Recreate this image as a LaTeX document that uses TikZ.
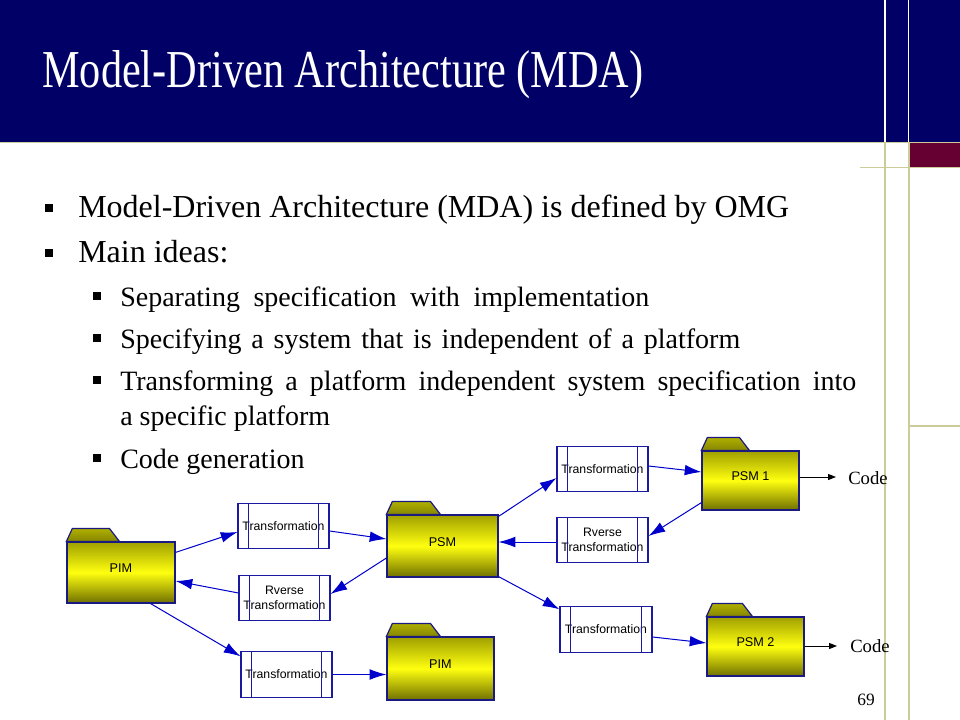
\documentclass[tikz,border=0pt]{standalone}
\usepackage{fontspec}
\usepackage{graphicx}
\setmainfont{Liberation Serif}
\newfontfamily\diagfont{Liberation Sans}
\usetikzlibrary{arrows.meta,calc}
\definecolor{headnavy}{HTML}{000066}
\definecolor{rulekhaki}{HTML}{CCCC99}
\definecolor{maroonbox}{HTML}{660033}
\definecolor{folderedge}{HTML}{1A1A80}
\definecolor{foldertop}{HTML}{A0A000}
\definecolor{foldermid}{HTML}{FFFF10}
\definecolor{folderbot}{HTML}{707000}
\definecolor{tabtop}{HTML}{B0B000}
\definecolor{tabbot}{HTML}{858500}
\definecolor{transblue}{HTML}{1A1AA0}
\definecolor{arrowblue}{HTML}{0000CC}
\tikzset{
 folderbody/.style={draw=folderedge, line width=0.9pt, top color=foldertop, bottom color=folderbot, middle color=foldermid, font=\diagfont\fontsize{9.5}{11}\selectfont, inner sep=0pt},
 foldertab/.style={draw=folderedge, line width=0.9pt, top color=tabtop, bottom color=tabbot},
 transbox/.style={draw=transblue, line width=0.8pt, fill=white, font=\diagfont\fontsize{9.2}{11.5}\selectfont, align=center, inner sep=0pt, minimum width=68.25pt, minimum height=34pt},
 transline/.style={draw=transblue, line width=0.8pt},
 flow/.style={draw=arrowblue, line width=0.75pt, -{Latex[length=12.5pt,width=8pt]}},
 codearrow/.style={draw=black, line width=0.75pt, -{Triangle[length=6pt,width=4.5pt]}},
 bulletone/.style={fill=black, inner sep=0pt, minimum size=6pt},
 bullettwo/.style={fill=black, inner sep=0pt, minimum size=5.5pt},
 lineone/.style={anchor=base west, inner sep=0pt, font=\fontsize{24}{28}\selectfont},
 linetwo/.style={anchor=base west, inner sep=0pt, font=\fontsize{21}{25}\selectfont},
 rulestyle/.style={draw=rulekhaki, line width=1pt},
}
\newcommand\drawfoldertab[2]{%
  \draw[foldertab] (#1.north west) -- ++(6,-13) -- ++({#2-16},0) -- ++(10,13) -- cycle;}
\newcommand\drawtranslines[1]{%
  \draw[transline] ($(#1.north west)+(11,0)$) -- ($(#1.south west)+(11,0)$);
  \draw[transline] ($(#1.north east)+(-11,0)$) -- ($(#1.south east)+(-11,0)$);}
\newcommand\foldertext[1]{\raisebox{0pt}[0pt][0pt]{#1}}
\begin{document}
\begin{tikzpicture}[x=0.75pt,y=-0.75pt]
\useasboundingbox (0,0) rectangle (960,720);
\fill[white] (0,0) rectangle (960,720);
% header
\fill[headnavy] (0,0) rectangle (960,142);
\draw[white, line width=1.2pt] (885,0) -- (885,142);
\draw[white, line width=1.2pt] (908.5,0) -- (908.5,142);
\draw[rulestyle] (0,142.5) -- (960,142.5);
\fill[maroonbox] (909,143) rectangle (960,167);
\draw[rulestyle] (860,167.5) -- (960,167.5);
\draw[rulestyle] (885,142) -- (885,720);
\draw[rulestyle] (909,142) -- (909,720);
\draw[rulestyle] (909,426) -- (960,426);
\node[anchor=base west, inner sep=0pt, text=white] (title) at (42,88)
  {\fontsize{40}{48}\selectfont\scalebox{0.793}[1]{Model-Driven Architecture (MDA)}};
% bullets
\node[bulletone] (bq1) at (48.5,208) {};
\node[lineone] (b1) at (78,218) {Model-Driven Architecture (MDA) is defined by OMG};
\node[bulletone] (bq2) at (48.5,253) {};
\node[lineone] (b2) at (78,263) {Main ideas:};
\node[bullettwo] (sq1) at (97,296) {};
\node[linetwo] (s1) at (120,306) {\makebox[396.75pt][s]{Separating specification with implementation}};
\node[bullettwo] (sq2) at (97,338) {};
\node[linetwo] (s2) at (120,348) {\makebox[465pt][s]{Specifying a system that is independent of a platform}};
\node[bullettwo] (sq3) at (97,380) {};
\node[linetwo] (s3) at (120,390) {\makebox[552pt][s]{Transforming a platform independent system specification into}};
\node[linetwo] (s3b) at (120,425) {a specific platform};
\node[bullettwo] (sq4) at (97,458) {};
\node[linetwo] (s4) at (120,468) {Code generation};
% diagram: folders
\node[folderbody, minimum width=81pt, minimum height=45.75pt] (pim1) at (121,572.5) {\foldertext{PIM}};
\drawfoldertab{pim1}{53}
\node[folderbody, minimum width=83.25pt, minimum height=46.5pt] (psm) at (442.5,546) {\foldertext{PSM}};
\drawfoldertab{psm}{54}
\node[folderbody, minimum width=80.25pt, minimum height=47.25pt] (pim2) at (440.5,668.5) {\foldertext{PIM}};
\drawfoldertab{pim2}{54}
\node[folderbody, minimum width=72.75pt, minimum height=44.25pt] (psm1) at (750.5,480.5) {\foldertext{PSM 1}};
\drawfoldertab{psm1}{48}
\node[folderbody, minimum width=72.75pt, minimum height=44.25pt] (psm2) at (755.5,646.5) {\foldertext{PSM 2}};
\drawfoldertab{psm2}{46}
% transformation boxes
\node[transbox] (t1) at (283.5,526) {Transformation};
\node[transbox] (r1) at (284.5,598) {Rverse\\Transformation};
\node[transbox] (t3) at (286.5,674.5) {Transformation};
\node[transbox] (t4) at (602.5,469) {Transformation};
\node[transbox] (r2) at (602.5,540) {Rverse\\Transformation};
\node[transbox, minimum width=69pt] (t5) at (606,629.5) {Transformation};
\drawtranslines{t1}
\drawtranslines{r1}
\drawtranslines{t3}
\drawtranslines{t4}
\drawtranslines{r2}
\drawtranslines{t5}
% connectors
\draw[flow] ($(pim1.north east)+(0,11)$) -- ($(t1.west)+(0,6)$);
\draw[flow] ($(t1.east)+(0,5)$) -- ($(psm.west)+(0,-7)$);
\draw[flow] ($(psm.west)+(0,12)$) -- ($(r1.east)+(0,-4)$);
\draw[flow] ($(r1.west)+(0,-5)$) -- ($(pim1.east)+(0,8.5)$);
\draw[flow] ($(pim1.south east)+(-25,0)$) -- ($(t3.north west)+(0,5)$);
\draw[flow] (t3.east) -- (t3.east -| pim2.west);
\draw[flow] ($(psm.north east)+(0,2)$) -- ($(t4.west)+(0,9)$);
\draw[flow] ($(t4.east)+(0,-3)$) -- ($(psm1.west)+(0,-8.5)$);
\draw[flow] ($(psm1.south west)+(0,-8)$) -- ($(r2.east)+(0,-4)$);
\draw[flow] ($(r2.west)+(0,2)$) -- ($(psm.east)+(0,-4)$);
\draw[flow] ($(psm.south east)+(0,-1)$) -- ($(t5.north west)+(0,3)$);
\draw[flow] ($(t5.east)+(0,7.5)$) -- ($(psm2.west)+(0,-3.5)$);
% code outputs
\node[anchor=base west, inner sep=0pt, font=\fontsize{14}{16}\selectfont] (code1) at (848,484.5) {Code};
\node[anchor=base west, inner sep=0pt, font=\fontsize{14}{16}\selectfont] (code2) at (850,652.5) {Code};
\coordinate (c1end) at (836,477);
\coordinate (c2end) at (837,646);
\draw[codearrow] (psm1.east |- c1end) -- (c1end);
\draw[codearrow] (psm2.east |- c2end) -- (c2end);
% page number
\node[anchor=base, inner sep=0pt, font=\fontsize{13}{15}\selectfont] (pnum) at (866,705) {69};
\end{tikzpicture}
\end{document}
